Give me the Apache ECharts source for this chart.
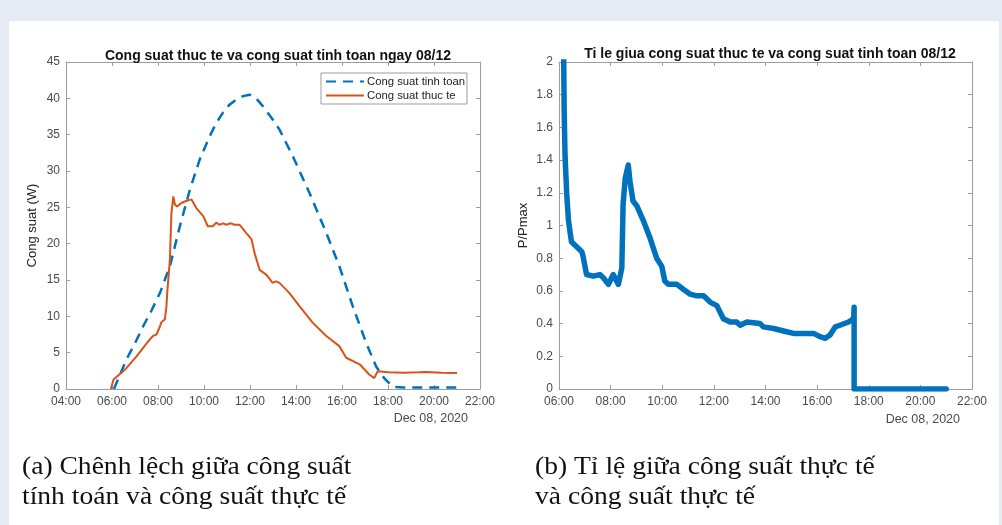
<!DOCTYPE html>
<html>
<head>
<meta charset="utf-8">
<script src="https://cdn.jsdelivr.net/npm/echarts@6/dist/echarts.min.js"></script>
<style>
  html, body { margin: 0; padding: 0; background: #e6eaf5; }
  #chart { width: 1002px; height: 525px; }
</style>
</head>
<body>
<div id="chart"></div>
<script>
// Hourly axis ranges (labels drawn as HH:00)
const leftHourTicks = [4, 22];
const rightHourTicks = [6, 22];

// Computed (theoretical) power, W
const calcTimes = ['06:05','06:38','07:00','07:21','07:43','08:05','08:31','08:57','09:23','09:49','10:15','10:32','10:49','11:06','11:24','11:42','11:59','12:16','12:34','12:55','13:17','13:52','14:35','15:19','15:53','16:28','17:03','17:29','17:50','18:12','18:40','19:30','20:20','21:00'];
const calcValues = [0, 4.1, 6.3, 8.6, 10.8, 13.2, 16.9, 22.4, 27.4, 31.6, 34.8, 36.6, 38.0, 39.1, 39.8, 40.3, 40.5, 40.0, 38.9, 37.4, 35.7, 32.0, 27.0, 21.5, 16.9, 11.4, 6.35, 3.1, 1.5, 0.3, 0.2, 0.2, 0.2, 0.2];

// Measured (actual) power, W
const actualTimes = ['05:57','06:04','06:08','06:29','06:38','07:04','07:38','07:47','07:56','08:05','08:09','08:18','08:22','08:24','08:31','08:35','08:40','08:44','08:50','09:01','09:15','09:27','09:40','09:58','10:10','10:23','10:32','10:40','10:50','10:58','11:10','11:20','11:33','11:50','12:04','12:12','12:25','12:43','12:59','13:08','13:17','13:43','14:09','14:44','15:19','15:53','16:11','16:46','17:11','17:24','17:33','18:00','18:40','19:20','19:40','20:20','21:00'];
const actualValues = [0, 1.3, 1.5, 2.45, 2.9, 4.5, 6.8, 7.3, 7.5, 8.6, 9.2, 9.6, 11.4, 13.2, 17.8, 24.2, 26.5, 25.4, 25.1, 25.6, 25.9, 26.1, 24.9, 23.8, 22.4, 22.4, 22.9, 22.6, 22.8, 22.6, 22.8, 22.6, 22.6, 21.5, 20.6, 18.7, 16.4, 15.7, 14.6, 14.8, 14.6, 13.2, 11.4, 9.1, 7.3, 5.9, 4.3, 3.4, 2.0, 1.5, 2.45, 2.3, 2.25, 2.3, 2.35, 2.25, 2.2];

// Ratio of actual to computed power
const ratioTimes = ['06:10','06:11','06:12','06:14','06:18','06:22','06:29','06:41','06:53','06:56','07:04','07:20','07:35','07:43','07:55','08:06','08:18','08:26','08:29','08:34','08:41','08:45','08:52','09:01','09:16','09:32','09:47','09:59','10:06','10:14','10:34','10:49','11:05','11:20','11:36','11:52','12:07','12:22','12:38','12:53','13:01','13:17','13:47','13:55','14:19','14:49','15:05','15:52','16:07','16:19','16:30','16:42','16:53','17:13','17:25','17:26','17:26','21:00'];
const ratioValues = [2.6, 2.0, 1.7, 1.43, 1.19, 1.03, 0.9, 0.87, 0.84, 0.81, 0.70, 0.69, 0.70, 0.68, 0.64, 0.70, 0.64, 0.74, 1.13, 1.29, 1.37, 1.27, 1.15, 1.12, 1.03, 0.92, 0.80, 0.75, 0.66, 0.64, 0.64, 0.61, 0.58, 0.57, 0.57, 0.53, 0.51, 0.43, 0.41, 0.41, 0.39, 0.41, 0.40, 0.38, 0.37, 0.35, 0.34, 0.34, 0.32, 0.31, 0.33, 0.38, 0.39, 0.41, 0.43, 0.50, 0.0, 0.0];

const toHours = s => { const [h, m] = s.split(':').map(Number); return h + m / 60; };
const pairs = (ts, vs) => ts.map((t, i) => [toHours(t), vs[i]]);

const AXIS_COLOR = '#9c9c9c';
const LABEL_COLOR = '#4a4a4a';
const FONT = 'Liberation Sans, Arial, sans-serif';
const SERIF = '"Liberation Serif", "Times New Roman", serif';
const hourFmt = v => String(v).padStart(2, '0') + ':00';

function xAxes(gridIndex, range) {
  const base = {
    type: 'value', gridIndex, min: range[0], max: range[1], interval: 2,
    splitLine: { show: false },
    axisLine: { show: true, onZero: false, lineStyle: { color: AXIS_COLOR, width: 1 } },
    axisTick: { show: true, inside: true, length: 4, lineStyle: { color: AXIS_COLOR } }
  };
  return [
    Object.assign({}, base, {
      position: 'bottom',
      axisLabel: { formatter: hourFmt, color: LABEL_COLOR, fontSize: 12, fontFamily: FONT, margin: 7, showMinLabel: true, showMaxLabel: true }
    }),
    Object.assign({}, base, { position: 'top', axisLabel: { show: false } })
  ];
}
function yAxes(gridIndex, max, interval, fmt, name, gap) {
  const base = {
    type: 'value', gridIndex, min: 0, max, interval,
    splitLine: { show: false },
    axisLine: { show: true, onZero: false, lineStyle: { color: AXIS_COLOR, width: 1 } },
    axisTick: { show: true, inside: true, length: 4, lineStyle: { color: AXIS_COLOR } }
  };
  return [
    Object.assign({}, base, {
      position: 'left', name, nameLocation: 'middle', nameGap: gap,
      nameTextStyle: { color: '#222', fontSize: 13, fontFamily: FONT },
      axisLabel: { formatter: fmt, color: LABEL_COLOR, fontSize: 12, fontFamily: FONT, margin: 6 }
    }),
    Object.assign({}, base, { position: 'right', axisLabel: { show: false } })
  ];
}

const chart = echarts.init(document.getElementById('chart'), null, { renderer: 'canvas' });
chart.setOption({
  animation: false,
  backgroundColor: 'transparent',
  title: [
    { text: 'Cong suat thuc te va cong suat tinh toan ngay 08/12', left: 273, top: 44, textAlign: 'center',
      textStyle: { fontSize: 14, fontWeight: 'bold', color: '#111', fontFamily: FONT } },
    { text: 'Ti le giua cong suat thuc te va cong suat tinh toan 08/12', left: 765, top: 42, textAlign: 'center',
      textStyle: { fontSize: 14, fontWeight: 'bold', color: '#111', fontFamily: FONT } }
  ],
  grid: [
    { left: 66, top: 62, width: 414, height: 327 },
    { left: 559, top: 62, width: 413, height: 327 }
  ],
  xAxis: [...xAxes(0, leftHourTicks), ...xAxes(1, rightHourTicks)],
  yAxis: [
    ...yAxes(0, 45, 5, v => String(v), 'Cong suat (W)', 27),
    ...yAxes(1, 2, 0.2, v => String(+v.toFixed(1)), 'P/Pmax', 29)
  ],
  legend: {
    orient: 'vertical', left: 321, top: 73,
    backgroundColor: '#fff', borderColor: '#9c9c9c', borderWidth: 1, borderRadius: 0,
    padding: [3, 2, 3, 4], itemGap: 3, itemWidth: 38, itemHeight: 10,
    itemStyle: { opacity: 0 },
    textStyle: { fontSize: 11.3, color: '#222', fontFamily: FONT, padding: [0, 0, 0, -2] },
    data: ['Cong suat tinh toan', 'Cong suat thuc te']
  },
  series: [
    { name: 'Cong suat tinh toan', type: 'line', xAxisIndex: 0, yAxisIndex: 0, symbol: 'none',
      data: pairs(calcTimes, calcValues),
      lineStyle: { color: '#0072BD', width: 2.5, type: [10, 7] }, itemStyle: { color: '#0072BD' } },
    { name: 'Cong suat thuc te', type: 'line', xAxisIndex: 0, yAxisIndex: 0, symbol: 'none',
      data: pairs(actualTimes, actualValues),
      lineStyle: { color: '#D95319', width: 2 }, itemStyle: { color: '#D95319' } },
    { name: 'P/Pmax', type: 'line', xAxisIndex: 2, yAxisIndex: 2, symbol: 'none', clip: true,
      data: pairs(ratioTimes, ratioValues),
      lineStyle: { color: '#0072BD', width: 5.5, join: 'round', cap: 'round' }, itemStyle: { color: '#0072BD' } }
  ],
  graphic: [
    { type: 'rect', z: -10, silent: true, shape: { x: 9, y: 21, width: 990, height: 504 }, style: { fill: '#ffffff' } },
    { type: 'text', x: 468, y: 419, style: { text: 'Dec 08, 2020', font: '12.5px ' + FONT, fill: LABEL_COLOR, align: 'right', verticalAlign: 'middle' } },
    { type: 'text', x: 960, y: 420, style: { text: 'Dec 08, 2020', font: '12.5px ' + FONT, fill: LABEL_COLOR, align: 'right', verticalAlign: 'middle' } },
    { type: 'text', x: 22, y: 467, scaleX: 1.06, style: { text: '(a) Chênh lệch giữa công suất', font: '26px ' + SERIF, fill: '#111', verticalAlign: 'middle' } },
    { type: 'text', x: 22, y: 497, scaleX: 1.06, style: { text: 'tính toán và công suất thực tế', font: '26px ' + SERIF, fill: '#111', verticalAlign: 'middle' } },
    { type: 'text', x: 535, y: 467, scaleX: 1.06, style: { text: '(b) Tỉ lệ giữa công suất thực tế', font: '26px ' + SERIF, fill: '#111', verticalAlign: 'middle' } },
    { type: 'text', x: 535, y: 497, scaleX: 1.06, style: { text: 'và công suất thực tế', font: '26px ' + SERIF, fill: '#111', verticalAlign: 'middle' } }
  ]
});
</script>
</body>
</html>
